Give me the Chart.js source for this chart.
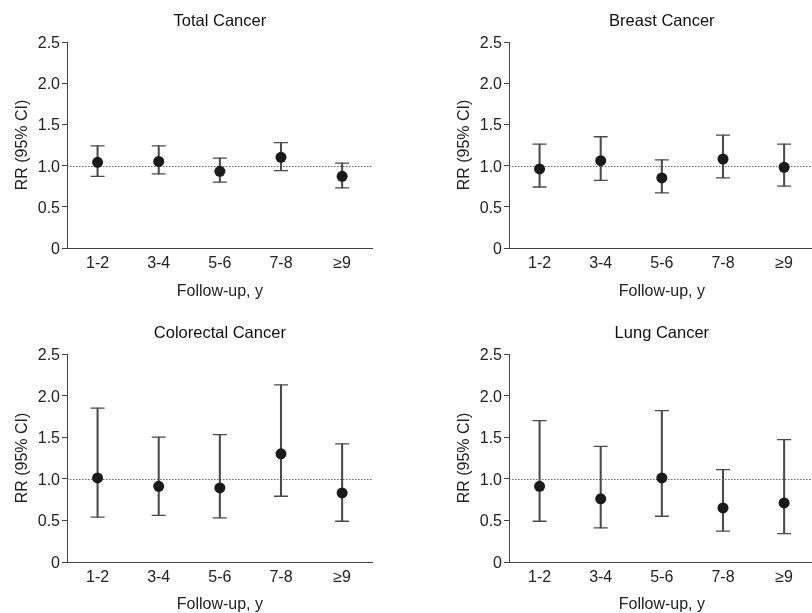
<!DOCTYPE html>
<html>
<head>
<meta charset="utf-8">
<script src="https://cdn.jsdelivr.net/npm/chart.js@4"></script>
<style>
  html, body { margin: 0; padding: 0; background: #fff; overflow: hidden; }
  body { width: 812px; height: 613px; position: relative; }
  .panel { position: absolute; }
</style>
</head>
<body>
<div class="panel" style="left:0;top:0"><canvas id="total" width="381" height="300"></canvas></div>
<div class="panel" style="left:442px;top:0"><canvas id="breast" width="381" height="300"></canvas></div>
<div class="panel" style="left:0;top:312px"><canvas id="colorectal" width="381" height="301"></canvas></div>
<div class="panel" style="left:442px;top:312px"><canvas id="lung" width="381" height="301"></canvas></div>
<script>
// follow-up categories and axis ticks
const categories = ['1-2', '3-4', '5-6', '7-8', '≥9'];
const yTickLabels = ['0', '0.5', '1.0', '1.5', '2.0', '2.5'];
const refValue = 1.0;

// RR with 95% CI
const totalRR = [1.04, 1.05, 0.93, 1.10, 0.87];
const totalLo = [0.87, 0.90, 0.80, 0.94, 0.73];
const totalHi = [1.24, 1.24, 1.09, 1.28, 1.03];

const breastRR = [0.96, 1.06, 0.85, 1.08, 0.98];
const breastLo = [0.74, 0.82, 0.67, 0.85, 0.75];
const breastHi = [1.26, 1.35, 1.07, 1.37, 1.26];

const colorectalRR = [1.01, 0.91, 0.89, 1.30, 0.83];
const colorectalLo = [0.54, 0.56, 0.53, 0.79, 0.49];
const colorectalHi = [1.85, 1.50, 1.53, 2.13, 1.42];

const lungRR = [0.91, 0.76, 1.01, 0.65, 0.71];
const lungLo = [0.49, 0.41, 0.55, 0.37, 0.34];
const lungHi = [1.70, 1.39, 1.82, 1.11, 1.47];

Chart.defaults.font.family = '"Liberation Sans", Arial, sans-serif';
Chart.defaults.color = '#222';

const AXIS = '#444';
const WHISKER = '#4a4a4a';

// dotted line at RR = 1
const refLine = {
    id: 'refLine',
    beforeDatasetsDraw(chart) {
        const { ctx, chartArea, scales } = chart;
        const y = Math.round(scales.y.getPixelForValue(refValue)) + 0.5;
        ctx.save();
        ctx.strokeStyle = '#666';
        ctx.lineWidth = 1;
        ctx.setLineDash([1.5, 1.5]);
        ctx.beginPath();
        ctx.moveTo(chartArea.left, y);
        ctx.lineTo(chartArea.right, y);
        ctx.stroke();
        ctx.restore();
    }
};

function makePanel(id, title, rr, lo, hi, plotBottom) {
    const canvas = document.getElementById(id);
    const h = canvas.height;
    const capStyle = {
        type: 'line',
        xAxisID: 'x',
        yAxisID: 'y',
        showLine: false,
        pointStyle: 'line',
        pointRadius: 7,
        pointBorderColor: WHISKER,
        pointBorderWidth: 1.3,
        order: 1
    };
    return new Chart(canvas.getContext('2d'), {
        data: {
            labels: categories,
            datasets: [
                {
                    type: 'line',
                    xAxisID: 'x',
                    yAxisID: 'y',
                    data: rr,
                    showLine: false,
                    pointRadius: 5.5,
                    pointBackgroundColor: '#1a1a1a',
                    pointBorderWidth: 0,
                    order: 0
                },
                { ...capStyle, data: hi },
                { ...capStyle, data: lo },
                {
                    type: 'bar',
                    xAxisID: 'x',
                    yAxisID: 'y',
                    data: lo.map((v, i) => [v, hi[i]]),
                    backgroundColor: WHISKER,
                    borderWidth: 0,
                    barThickness: 1.4,
                    order: 2
                }
            ]
        },
        options: {
            responsive: false,
            animation: false,
            events: [],
            layout: { padding: 0 },
            plugins: {
                legend: { display: false },
                tooltip: { enabled: false }
            },
            scales: {
                x: {
                    type: 'category',
                    offset: true,
                    grid: { display: false, drawTicks: false, tickLength: 0 },
                    border: { display: true, color: AXIS, width: 1 },
                    ticks: { font: { size: 16 }, padding: 6, maxRotation: 0, autoSkip: false },
                    title: {
                        display: true,
                        text: 'Follow-up, y',
                        font: { size: 16, lineHeight: 1 },
                        padding: { top: 0, bottom: 0 }
                    },
                    afterFit(scale) {
                        scale.height = h - plotBottom;
                    }
                },
                // empty top axis, only carries the panel title centred over the plot
                top: {
                    type: 'category',
                    position: 'top',
                    labels: categories,
                    grid: { display: false, drawTicks: false },
                    border: { display: false },
                    ticks: { display: false },
                    title: {
                        display: true,
                        text: title,
                        color: '#111',
                        font: { size: 16.5, lineHeight: 1.2 },
                        padding: { top: 11.1, bottom: 0 }
                    },
                    afterFit(scale) { scale.height = 42; }
                },
                y: {
                    min: 0,
                    max: 2.5,
                    grid: {
                        display: true,
                        drawOnChartArea: false,
                        drawTicks: true,
                        tickLength: 5,
                        color: AXIS
                    },
                    border: { display: true, color: AXIS, width: 1 },
                    ticks: {
                        stepSize: 0.5,
                        padding: 2,
                        labelOffset: 1.5,
                        font: { size: 16 },
                        callback: (v, i) => yTickLabels[i]
                    },
                    title: {
                        display: true,
                        text: 'RR (95% CI)',
                        font: { size: 16, lineHeight: 1.2 },
                        padding: { top: 12.5, bottom: 0 }
                    },
                    afterFit(scale) { scale.width = 67; }
                }
            }
        },
        plugins: [refLine]
    });
}

makePanel('total', 'Total Cancer', totalRR, totalLo, totalHi, 248);
makePanel('breast', 'Breast Cancer', breastRR, breastLo, breastHi, 248);
makePanel('colorectal', 'Colorectal Cancer', colorectalRR, colorectalLo, colorectalHi, 250);
makePanel('lung', 'Lung Cancer', lungRR, lungLo, lungHi, 250);
</script>
</body>
</html>
